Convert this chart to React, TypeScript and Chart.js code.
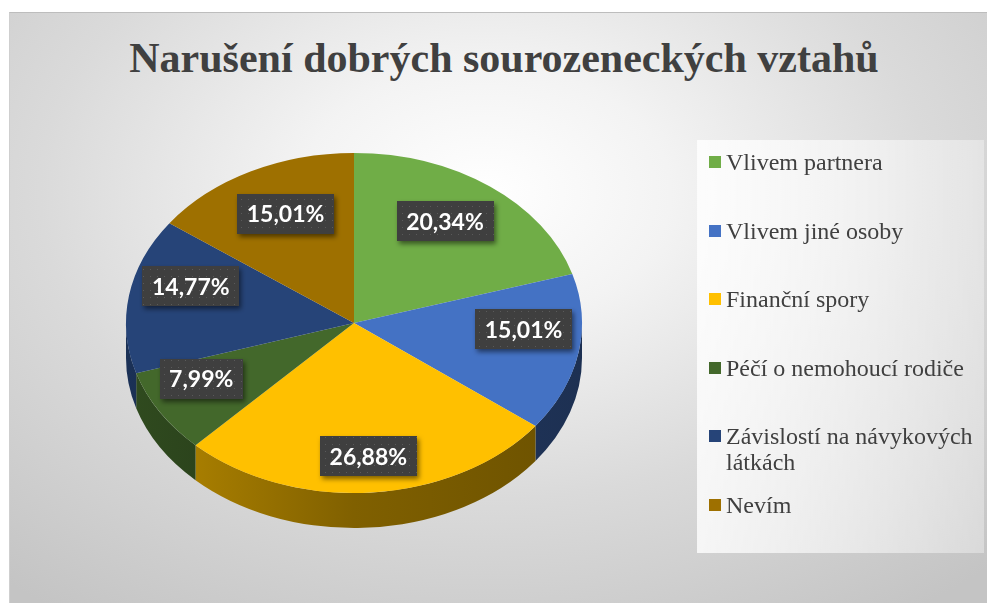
import React, { useEffect, useRef } from "react";
import { Chart, registerables } from "chart.js";

Chart.register(...registerables);

const title = "Narušení dobrých sourozeneckých vztahů";
const categories = [
  "Vlivem partnera",
  "Vlivem jiné osoby",
  "Finanční spory",
  "Péčí o nemohoucí rodiče",
  "Závislostí na návykových látkách",
  "Nevím",
];
const percentages = [20.34, 15.01, 26.88, 7.99, 14.77, 15.01];
const sliceColors = ["#70AD47", "#4472C4", "#FFC000", "#43682B", "#264478", "#9E7000"];

const K = 170 / 228; // vertical squash of the tilted pie
const DEPTH = 35;
const LABEL_FRAC = 0.74;
const PERSP_X = 0.12;
const PERSP_Y = 0.2;
const LABEL_LIFT = 17;

function shade(hex: string, f: number) {
  const n = parseInt(hex.slice(1), 16);
  const r = Math.round(((n >> 16) & 255) * f);
  const g = Math.round(((n >> 8) & 255) * f);
  const b = Math.round((n & 255) * f);
  return `rgb(${r},${g},${b})`;
}

function fmt(v: number) {
  return v.toFixed(2).replace(".", ",") + "%";
}

let patternCache: CanvasPattern | null = null;
function getPattern(ctx: CanvasRenderingContext2D) {
  if (patternCache) return patternCache;
  const c = document.createElement("canvas");
  c.width = 7;
  c.height = 7;
  const p = c.getContext("2d")!;
  p.fillStyle = "#3f3f3f";
  p.fillRect(0, 0, 7, 7);
  p.fillStyle = "#5a5a5a";
  p.fillRect(3, 3, 1, 1);
  patternCache = ctx.createPattern(c, "repeat");
  return patternCache;
}

const pie3d = {
  id: "pie3d",
  beforeDatasetsDraw(chart: any) {
    const ctx: CanvasRenderingContext2D = chart.ctx;
    const arcs = chart.getDatasetMeta(0).data;
    if (!arcs.length) return;
    const cx = arcs[0].x;
    const cy = arcs[0].y;
    const R = arcs[0].outerRadius;
    const ry = R * K;
    ctx.save();
    arcs.forEach((arc: any, i: number) => {
      const a = Math.max(arc.startAngle, 0);
      const b = Math.min(arc.endAngle, Math.PI);
      if (b <= a) return;
      const col = sliceColors[i];
      const grad = ctx.createLinearGradient(cx - R, 0, cx + R, 0);
      grad.addColorStop(0, shade(col, 0.72));
      grad.addColorStop(0.5, shade(col, 0.5));
      grad.addColorStop(1, shade(col, 0.42));
      ctx.beginPath();
      ctx.ellipse(cx, cy, R, ry, 0, a, b, false);
      ctx.lineTo(cx + R * Math.cos(b), cy + DEPTH + ry * Math.sin(b));
      ctx.ellipse(cx, cy + DEPTH, R, ry, 0, b, a, true);
      ctx.closePath();
      ctx.fillStyle = grad;
      ctx.fill();
    });
    ctx.restore();
    ctx.save();
    ctx.translate(cx, cy);
    ctx.scale(1, K);
    ctx.translate(-cx, -cy);
  },
  afterDatasetsDraw(chart: any) {
    const ctx: CanvasRenderingContext2D = chart.ctx;
    ctx.restore();
    const arcs = chart.getDatasetMeta(0).data;
    if (!arcs.length) return;
    ctx.save();
    ctx.font = "bold 23px Lato, 'Open Sans', sans-serif";
    ctx.textAlign = "center";
    ctx.textBaseline = "middle";
    arcs.forEach((arc: any, i: number) => {
      const mid = (arc.startAngle + arc.endAngle) / 2;
      const R = arc.outerRadius * LABEL_FRAC;
      const s = Math.sin(mid);
      const px = arc.x + Math.cos(mid) * R * (1 + PERSP_X * s);
      const py = arc.y - LABEL_LIFT + s * R * K * (1 + PERSP_Y * s);
      const txt = fmt(percentages[i]);
      const tw = ctx.measureText(txt).width;
      const w = tw + 19;
      const h = 40;
      ctx.save();
      ctx.shadowColor = "rgba(0,0,0,0.5)";
      ctx.shadowBlur = 5;
      ctx.shadowOffsetX = 2;
      ctx.shadowOffsetY = 3;
      ctx.fillStyle = getPattern(ctx) || "#404040";
      ctx.fillRect(Math.round(px - w / 2), Math.round(py - h / 2), Math.round(w), h);
      ctx.restore();
      ctx.fillStyle = "#ffffff";
      ctx.fillText(txt, px, py + 1);
    });
    ctx.restore();
  },
};

export default function App() {
  const ref = useRef<HTMLCanvasElement>(null);
  useEffect(() => {
    if (!ref.current) return;
    const chart = new Chart(ref.current, {
      type: "pie",
      data: {
        labels: categories,
        datasets: [{ data: percentages, backgroundColor: sliceColors, borderWidth: 0 }],
      },
      options: {
        responsive: false,
        animation: false,
        events: [],
        layout: { padding: { left: 126, right: 405, top: 95, bottom: 52 } },
        plugins: {
          legend: { display: false },
          title: { display: false },
          tooltip: { enabled: false },
        },
      },
      plugins: [pie3d],
    });
    return () => chart.destroy();
  }, []);

  return (
    <div style={{ position: "absolute", left: 0, top: 0, width: 987, height: 603, overflow: "hidden", background: "#ffffff" }}>
      <div
        style={{
          position: "absolute",
          left: 9,
          top: 12,
          width: 990,
          height: 600,
          borderTop: "1px solid #bdbdbd",
          borderLeft: "1px solid #cfcfcf",
          background:
            "radial-gradient(ellipse 75% 85% at 48% 30%, #ffffff 0%, #f3f3f3 25%, #dadada 60%, #c4c4c4 100%)",
        }}
      />
      <div
        style={{
          position: "absolute",
          left: 0,
          top: 34,
          width: 1008,
          textAlign: "center",
          fontFamily: "'Liberation Serif', 'Times New Roman', serif",
          fontWeight: 700,
          fontSize: 42,
          lineHeight: "48px",
          color: "#404040",
          whiteSpace: "nowrap",
        }}
      >
        {title}
      </div>
      <canvas ref={ref} width={987} height={603} style={{ position: "absolute", left: 0, top: 0, width: 987, height: 603 }} />
      <div
        style={{
          position: "absolute",
          left: 697,
          top: 140,
          width: 287,
          height: 413,
          background: "linear-gradient(to right, rgba(255,255,255,0.8), rgba(255,255,255,0.35))",
        }}
      >
        {categories.map((c, i) => (
          <div
            key={c}
            style={{
              position: "absolute",
              left: 12,
              top: 22 + i * 68.6 - 13,
              display: "flex",
              alignItems: "flex-start",
            }}
          >
            <div style={{ width: 12, height: 12, background: sliceColors[i], marginTop: 7, marginRight: 5, flex: "none" }} />
            <div
              style={{
                width: 252,
                fontFamily: "'Liberation Serif', 'Times New Roman', serif",
                fontSize: 24,
                lineHeight: "26px",
                color: "#404040",
              }}
            >
              {c}
            </div>
          </div>
        ))}
      </div>
    </div>
  );
}
